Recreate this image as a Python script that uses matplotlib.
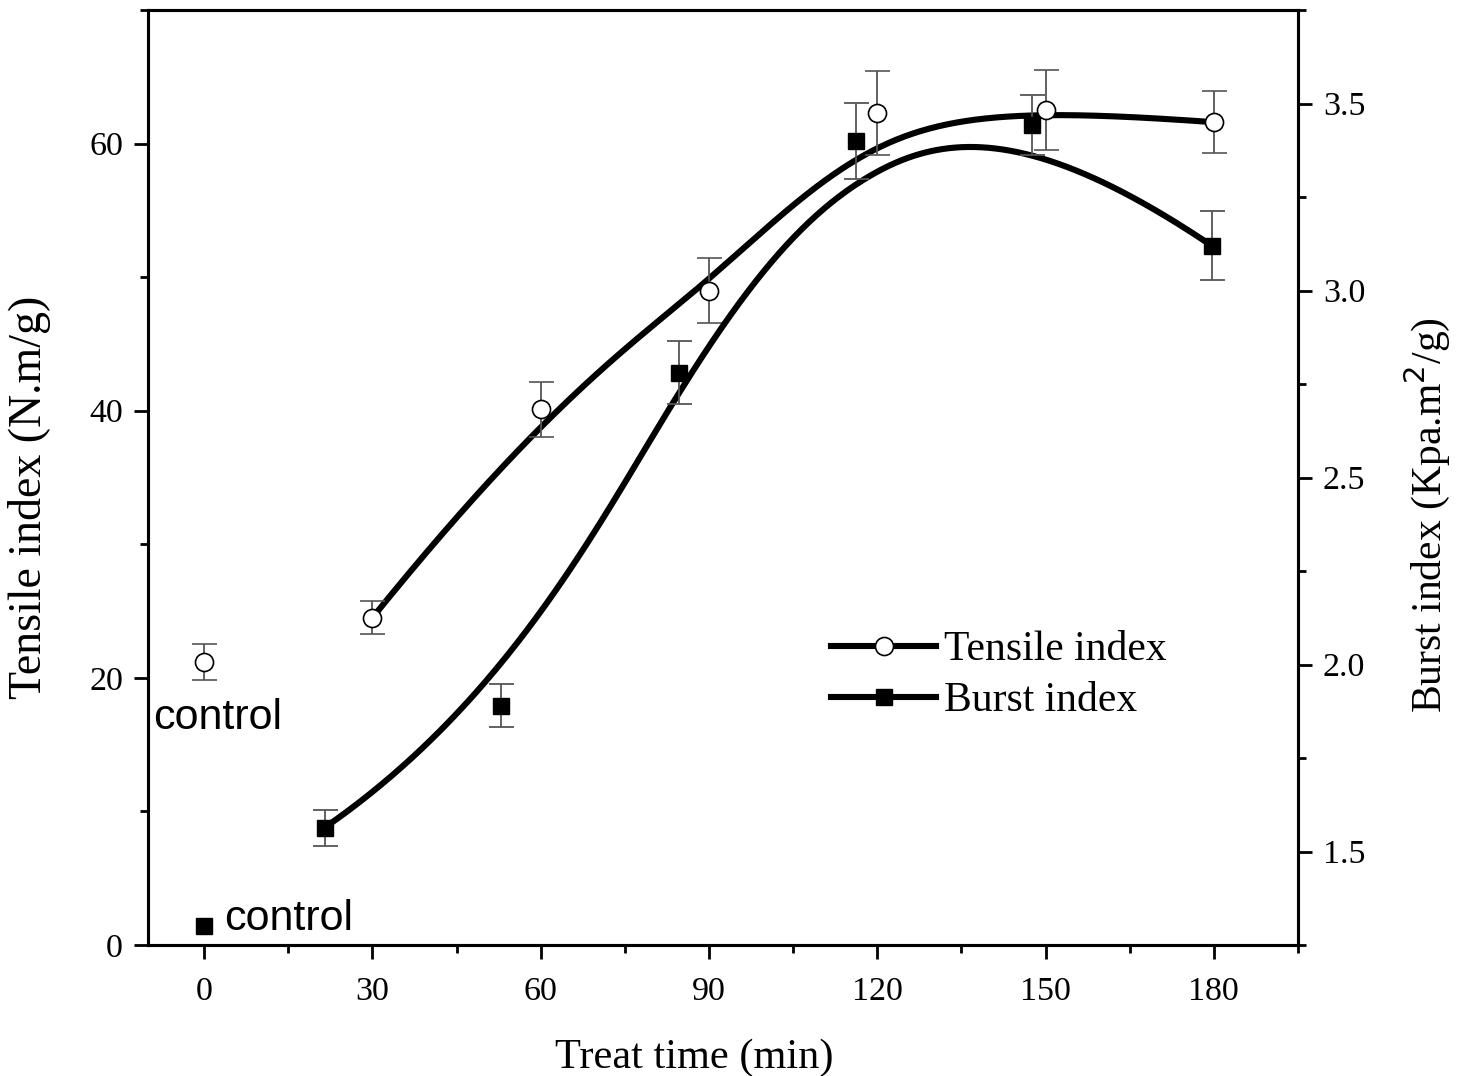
import matplotlib
matplotlib.use('Agg')
import matplotlib.pyplot as plt
import numpy as np
from matplotlib.lines import Line2D

# Data
control_time = 0
tensile_control, tensile_control_err = 21.2, 1.35
burst_control = 1.30

tensile_time = [30, 60, 90, 120, 150, 180]
tensile_index = [24.5, 40.1, 49.0, 62.3, 62.5, 61.6]
tensile_err = [1.25, 2.05, 2.4, 3.15, 3.0, 2.3]

burst_time = [21.5, 52.9, 84.7, 116.2, 147.6, 179.6]
burst_index = [1.564, 1.89, 2.78, 3.40, 3.443, 3.12]
burst_err = [0.048, 0.057, 0.084, 0.102, 0.08, 0.092]


def bspline(px, py, k=3, n=400):
    # clamped B-spline using the data points as control points (Origin style)
    px, py = np.asarray(px, float), np.asarray(py, float)
    m = len(px)
    knots = np.concatenate([[0] * k, np.linspace(0, 1, m - k + 1), [1] * k])
    t = np.linspace(0, 1 - 1e-9, n)

    def N(i, p):
        if p == 0:
            return ((knots[i] <= t) & (t < knots[i + 1])).astype(float)
        out = np.zeros_like(t)
        d1 = knots[i + p] - knots[i]
        d2 = knots[i + p + 1] - knots[i + 1]
        if d1 > 0:
            out += (t - knots[i]) / d1 * N(i, p - 1)
        if d2 > 0:
            out += (knots[i + p + 1] - t) / d2 * N(i + 1, p - 1)
        return out

    B = np.array([N(i, k) for i in range(m)])
    return B.T @ px, B.T @ py


serif = 'Liberation Serif'
sans = 'Liberation Sans'
plt.rcParams['font.family'] = serif

fig = plt.figure(figsize=(14.58, 10.76), dpi=100)
ax = fig.add_subplot(111)
fig.subplots_adjust(left=148/1458, right=1298/1458, bottom=1-945/1076, top=1-10/1076)
ax2 = ax.twinx()

ecol = '#555555'
# Tensile index (left axis)
tx, ty = bspline(tensile_time, tensile_index)
ax.plot(tx, ty, color='black', lw=4.4, zorder=3)
ax.errorbar(tensile_time, tensile_index, yerr=tensile_err, fmt='o', ms=13,
            mfc='white', mec='black', mew=1.2, ecolor=ecol, elinewidth=1.3,
            capsize=9, capthick=1.3, zorder=4)
ax.errorbar([control_time], [tensile_control], yerr=[tensile_control_err], fmt='o',
            ms=13, mfc='white', mec='black', mew=1.2, ecolor=ecol, elinewidth=1.3,
            capsize=9, capthick=1.3, zorder=4)

# Burst index (right axis)
bx, by = bspline(burst_time, burst_index)
ax2.plot(bx, by, color='black', lw=4.4, zorder=3)
ax2.errorbar(burst_time, burst_index, yerr=burst_err, fmt='s', ms=12,
             mfc='black', mec='black', ecolor=ecol, elinewidth=1.3,
             capsize=9, capthick=1.3, zorder=4)
ax2.plot([control_time], [burst_control], 's', ms=12, color='black')

ax.text(-9, 17.0, 'control', family=sans, fontsize=31, va='center', ha='left')
ax2.text(3.5, 1.32, 'control', family=sans, fontsize=31, va='center', ha='left')

# axes limits and ticks
ax.set_xlim(-10, 195)
ax.set_ylim(0, 70)
ax2.set_ylim(1.25, 3.75)
ax.set_xticks(np.arange(0, 181, 30))
ax.set_xticks(np.arange(15, 196, 30), minor=True)
ax.set_yticks([0, 20, 40, 60])
ax.set_yticks([10, 30, 50, 70], minor=True)
ax2.set_yticks([1.5, 2.0, 2.5, 3.0, 3.5])
ax2.set_yticks([1.25, 1.75, 2.25, 2.75, 3.25, 3.75], minor=True)
ax2.set_yticklabels(['1.5', '2.0', '2.5', '3.0', '3.5'])

for a in (ax, ax2):
    a.tick_params(which='major', direction='out', length=10, width=2, labelsize=24.5, pad=8)
    a.tick_params(which='minor', direction='out', length=6, width=2)
    for s in a.spines.values():
        s.set_linewidth(2.2)
ax.tick_params(axis='y', which='both', right=False)
ax.tick_params(axis='x', which='major', pad=13)

ax.set_xlabel('Treat time (min)', fontsize=30.5)
ax.set_ylabel('Tensile index (N.m/g)', fontsize=33)
ax2.set_ylabel('Burst index (Kpa.m$^2$/g)', fontsize=30)
ax.xaxis.set_label_coords(0.475, -0.1)
ax.yaxis.set_label_coords(-0.084, 0.479)
ax2.yaxis.set_label_coords(1.09, 0.46)

# legend
h1 = Line2D([], [], color='black', lw=4.4, marker='o', ms=13, mfc='white', mec='black', mew=1.2)
h2 = Line2D([], [], color='black', lw=4.4, marker='s', ms=12, mfc='black', mec='black')
ax2.legend([h1, h2], ['Tensile index', 'Burst index'], loc='center',
           bbox_to_anchor=(0.74, 0.288), frameon=False, fontsize=30, numpoints=1,
           handlelength=2.5, handletextpad=0.2, labelspacing=0.3)

fig.savefig('out.png', dpi=100)
